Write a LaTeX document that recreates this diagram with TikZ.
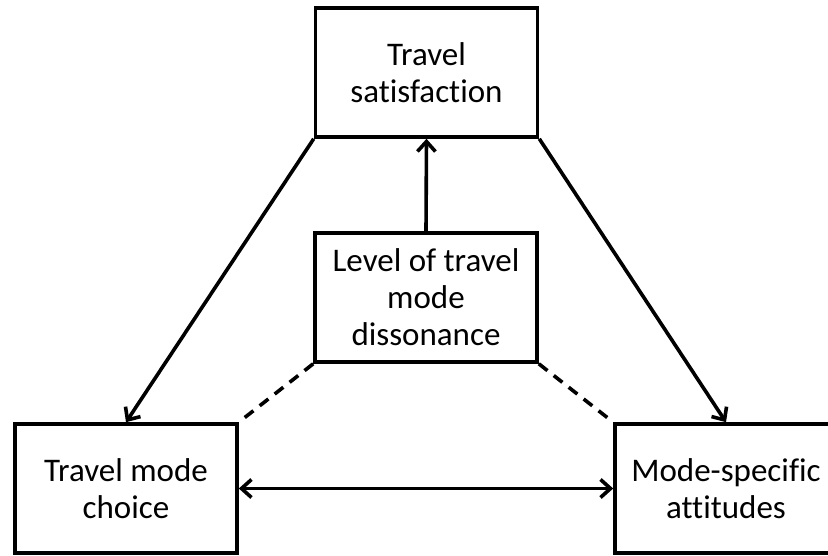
\documentclass[tikz,border=0pt]{standalone}
\usepackage{fontspec}
\setmainfont[Ligatures=NoCommon]{Carlito}
\usetikzlibrary{arrows.meta}
\begin{document}
\begin{tikzpicture}[x=1pt,y=-1pt,line width=3.6pt,>={Straight Barb[length=10pt,width=18pt,line width=3.6pt]}]
            \tikzset{box/.style={draw,line width=3.6pt,minimum width=222pt,minimum height=129pt,
            align=center,inner sep=0pt,font=\fontsize{33}{37}\selectfont}}
            \useasboundingbox (0,0) rectangle (828,555);
            \node[box] (sat) at (426.5,72.5) {Travel\\satisfaction};
            \node[box] (diss) at (426,297.5) {Level of travel\\mode\\dissonance};
            \node[box] (choice) at (126,488.5) {Travel mode\\choice};
            \node[box] (att) at (726,488.5) {Mode-specific\\attitudes};
            \draw[->] (sat.south west)--(choice.north);
            \draw[->] (sat.south east)--(att.north);
            \draw[->] (diss.north)--(sat.south);
            \draw[dash pattern=on 11pt off 8pt] (diss.south west)--(choice.north east)
            (diss.south east)--(att.north west);
            \draw[<->] (choice.east)--(att.west);
    \end{tikzpicture}
\end{document}
